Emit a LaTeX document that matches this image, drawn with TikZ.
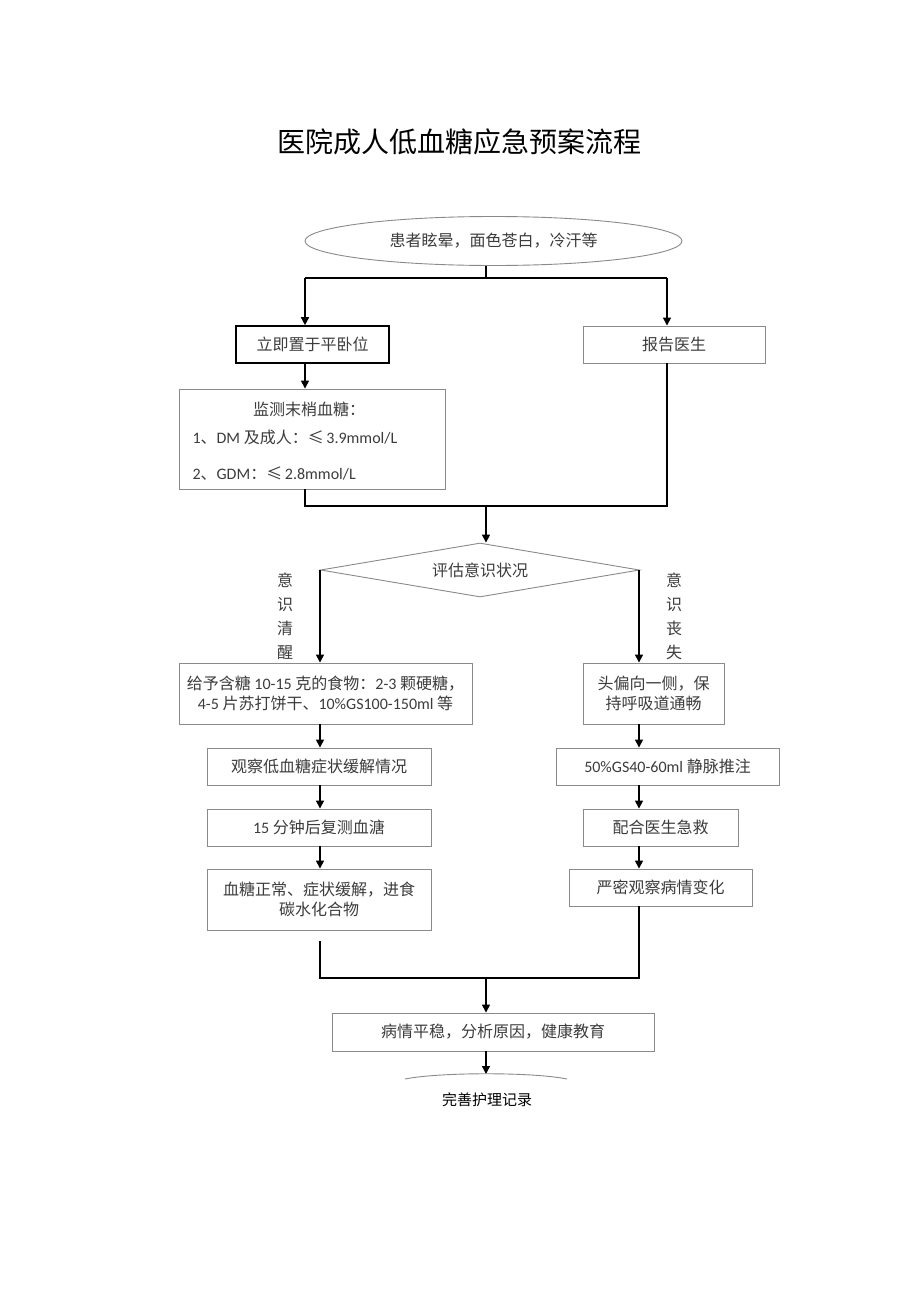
\documentclass[tikz,border=0pt]{standalone}
\usepackage{fontspec}
\setmainfont{Carlito}
\newfontfamily\zh{Noto Sans CJK SC}
\usetikzlibrary{shapes.geometric,arrows.meta}
\definecolor{boxline}{HTML}{8A8A8A}
\definecolor{txt}{HTML}{3C3C3C}
\tikzset{
  tx/.style={text=txt, font=\fontsize{16}{20}\selectfont, align=center},
  box/.style={tx, draw=boxline, line width=0.9pt, rectangle, inner sep=0pt},
  arr/.style={line width=1.4pt, -{Triangle[length=8pt,width=8pt]}},
  ln/.style={line width=1.4pt},
}
\begin{document}
\begin{tikzpicture}[x=1pt,y=-1pt]
\useasboundingbox (0,0) rectangle (920,1301);
\fill[white] (0,0) rectangle (920,1301);

\node[font=\zh\fontsize{28}{32}\selectfont] (title) at (459,142) {医院成人低血糖应急预案流程};

% top
\node[tx, ellipse, draw=boxline, line width=0.9pt, minimum width=377pt, minimum height=49pt, inner sep=0pt] (e1) at (493.5,241) {\zh 患者眩晕，面色苍白，冷汗等};

\node[box, draw=black, line width=1.6pt, minimum width=153pt, minimum height=37pt] (b1) at (312.5,344.5) {\zh 立即置于平卧位};
\node[box, minimum width=182pt, minimum height=37pt] (b2) at (674,344.5) {\zh 报告医生};

\node[box, minimum width=266pt, minimum height=100pt] (b3) at (312,439) {};
\node[tx] (b3a) at (309,409) {\zh 监测末梢血糖：};
\node[tx, anchor=west] (b3b) at (189,437) {1{\zh 、}DM {\zh 及成人：≤}\,3.9mmol/L};
\node[tx, anchor=west] (b3c) at (189,474) {2{\zh 、}GDM{\zh ：≤}\,2.8mmol/L};

\coordinate (j1) at (486,278);
\coordinate (l1) at (305,278);
\coordinate (r1) at (667,278);
\draw[ln] (e1.south -| j1) -- (j1);
\draw[ln] (l1) -- (r1);
\draw[arr] (l1) -- (l1 |- b1.north);
\draw[arr] (r1) -- (r1 |- b2.north);
\draw[arr] (l1 |- b1.south) -- (l1 |- b3.north);

\coordinate (j2) at (486,506);
\draw[ln] (l1 |- b3.south) -- (l1 |- j2) -- (r1 |- j2) -- (r1 |- b2.south);

% decision
\node[tx, diamond, draw=boxline, line width=0.9pt, shape aspect=6, minimum width=319pt, minimum height=54pt, inner sep=0pt] (d) at (480,570) {\zh 评估意识状况};
\draw[arr] (j2) -- (j2 |- d.north);

\node[tx, font=\zh\fontsize{16}{24}\selectfont] (lab1) at (285,616) {意\\识\\清\\醒};
\node[tx, font=\zh\fontsize{16}{24}\selectfont] (lab2) at (674,616) {意\\识\\丧\\失};

\coordinate (lx) at (320,570);
\coordinate (rx) at (639,570);

% left column
\node[box, minimum width=293pt, minimum height=61pt] (b4) at (325.5,693.5) {{\zh 给予含糖} 10-15 {\zh 克的食物：}2-3 {\zh 颗硬糖，}\\4-5 {\zh 片苏打饼干、}10\%GS100-150ml {\zh 等}};
\node[box, minimum width=224pt, minimum height=37pt] (b6) at (319,766.5) {\zh 观察低血糖症状缓解情况};
\node[box, minimum width=224pt, minimum height=37pt] (b7) at (319,827.5) {15 {\zh 分钟后复测血溏}};
\node[box, minimum width=224pt, minimum height=61pt] (b8) at (319,899.5) {\zh 血糖正常、症状缓解，进食\\\zh 碳水化合物};

% right column
\node[box, minimum width=141pt, minimum height=61pt] (b5) at (653.5,693.5) {\zh 头偏向一侧，保\\\zh 持呼吸道通畅};
\node[box, minimum width=223pt, minimum height=37pt] (b9) at (667.5,766.5) {50\%GS40-60ml {\zh 静脉推注}};
\node[box, minimum width=155pt, minimum height=37pt] (b10) at (660.5,827.5) {\zh 配合医生急救};
\node[box, minimum width=183pt, minimum height=37pt] (b11) at (660.5,887.5) {\zh 严密观察病情变化};

\draw[arr] (lx) -- (lx |- b4.north);
\draw[arr] (rx) -- (rx |- b5.north);
\draw[arr] (lx |- b4.south) -- (lx |- b6.north);
\draw[arr] (lx |- b6.south) -- (lx |- b7.north);
\draw[arr] (lx |- b7.south) -- (lx |- b8.north);
\draw[arr] (rx |- b5.south) -- (rx |- b9.north);
\draw[arr] (rx |- b9.south) -- (rx |- b10.north);
\draw[arr] (rx |- b10.south) -- (rx |- b11.north);

% merge
\coordinate (m1) at (320,941);
\coordinate (j3) at (486,978);
\draw[ln] (m1) -- (lx |- j3) -- (rx |- j3) -- (rx |- b11.south);

\node[box, minimum width=322pt, minimum height=38pt] (b12) at (493,1032) {\zh 病情平稳，分析原因，健康教育};
\draw[arr] (j3) -- (j3 |- b12.north);

\coordinate (a0) at (486,1074);
\coordinate (a1) at (405,1079);
\coordinate (a2) at (567,1079);
\draw[arr] (j3 |- b12.south) -- (a0);
\draw[boxline, line width=0.9pt] (a1) .. controls (440,1072) and (533,1072) .. (a2);

\node[font=\zh\fontsize{15}{18}\selectfont] (t2) at (487,1100) {完善护理记录};
\end{tikzpicture}
\end{document}
